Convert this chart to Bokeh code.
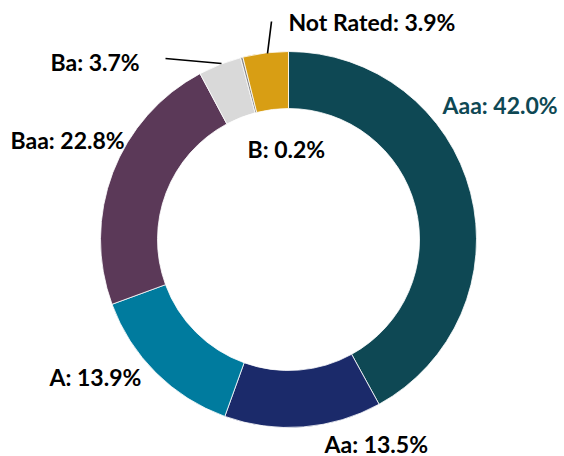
import math
from bokeh.plotting import figure
from bokeh.models import Range1d, ColumnDataSource
from bokeh.core.properties import value
from bokeh.embed import file_html
from bokeh.resources import INLINE

# ---- data ----
categories = ["Aaa", "Aa", "A", "Baa", "Ba", "B", "Not Rated"]
shares = [42.0, 13.5, 13.9, 22.8, 3.7, 0.2, 3.9]
colors = ["#0e4854", "#1b2a6a", "#007b9e", "#5b3958", "#d9d9d9", "#8a8a8a", "#d89e14"]
label_colors = ["#0e4854", "#000000", "#000000", "#000000", "#000000", "#000000", "#000000"]

W, H = 564, 456
p = figure(width=W, height=H, output_backend="svg", toolbar_location=None,
           x_range=Range1d(0, W), y_range=Range1d(0, H), min_border=0)
p.axis.visible = False
p.grid.visible = False
p.outline_line_color = None
p.background_fill_color = "white"

def X(ix):
    return ix
def Y(iy):
    return H - iy

cx, cy = X(288), Y(239)
r_out, r_in = 188, 131

total = sum(shares)
starts, ends = [], []
acc = 0.0
for s in shares:
    a0 = math.pi / 2 - 2 * math.pi * acc / total
    acc += s
    a1 = math.pi / 2 - 2 * math.pi * acc / total
    starts.append(a0)
    ends.append(a1)

src = ColumnDataSource(dict(start=starts, end=ends, color=colors, cat=categories))
p.annular_wedge(x=cx, y=cy, inner_radius=r_in, outer_radius=r_out,
                start_angle="start", end_angle="end", direction="clock",
                fill_color="color", line_color="white", line_width=0.8, source=src)

# labels (layout positions, image pixel coordinates: left x, middle y)
label_pos = {
    "Aaa": (442, 104),
    "Aa": (324, 443),
    "A": (49, 376),
    "Baa": (10, 139),
    "Ba": (50, 61),
    "B": (247, 148),
    "Not Rated": (288, 21),
}
texts = [f"{c}: {s:.1f}%" for c, s in zip(categories, shares)]
lsrc = ColumnDataSource(dict(
    x=[X(label_pos[c][0]) for c in categories],
    y=[Y(label_pos[c][1]) for c in categories],
    text=texts, color=label_colors))
p.text(x="x", y="y", text="text", text_color="color", source=lsrc,
       text_font=value("Lato"), text_font_style="bold", text_font_size="23px",
       text_align="left", text_baseline="middle")

# leader lines
p.segment(x0=[X(165), X(271)], y0=[Y(58), Y(21)], x1=[X(221), X(267)], y1=[Y(63), Y(53)],
          line_color="black", line_width=1.6)

open("out.html", "w").write(file_html(p, INLINE))
